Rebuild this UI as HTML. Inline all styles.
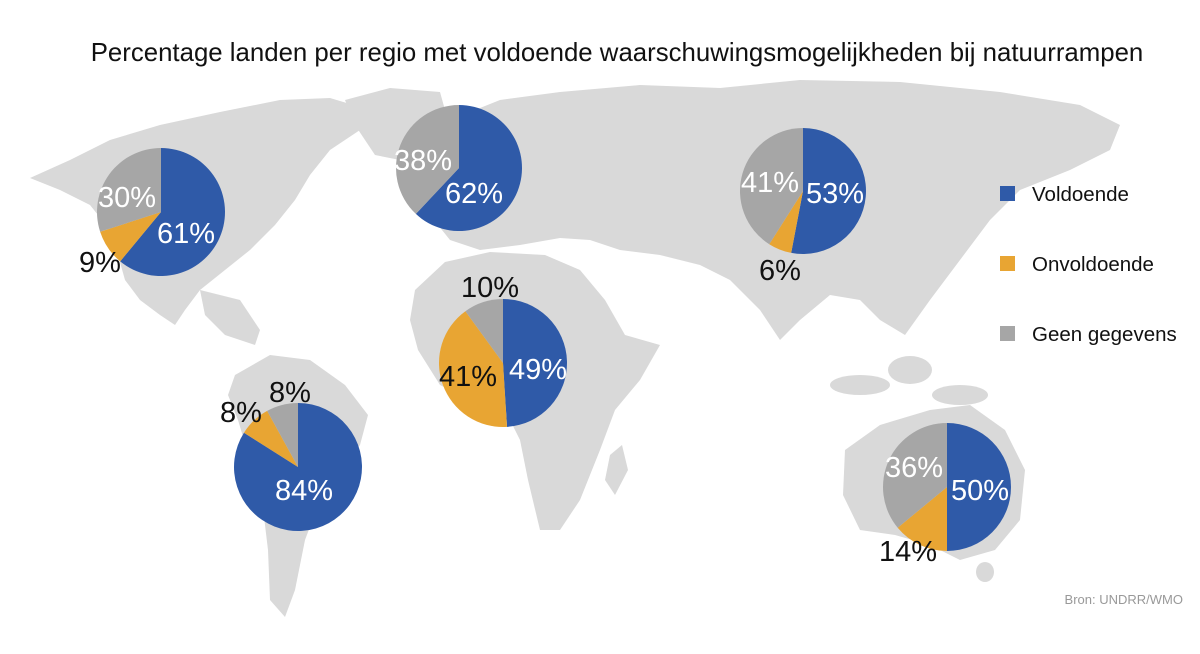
<!DOCTYPE html>
<html><head><meta charset="utf-8"><style>
body{margin:0;background:#fff;width:1200px;height:654px;overflow:hidden;font-family:"Liberation Sans",sans-serif}
svg{display:block}
</style></head><body>
<svg id="s" width="1200" height="654" viewBox="0 0 1200 654">
<text x="617" y="61" font-size="25.8" text-anchor="middle" fill="#111">Percentage landen per regio met voldoende waarschuwingsmogelijkheden bij natuurrampen</text>
<g fill="#d9d9d9">
<polygon points="30,178 70,160 110,140 160,125 220,112 280,100 330,98 370,110 360,130 330,150 310,175 295,200 275,225 250,250 225,270 200,290 185,310 175,325 160,315 140,300 125,280 118,255 110,230 90,205 60,190"/>
<polygon points="345,100 390,88 440,92 445,110 420,135 400,160 375,155 355,125"/>
<polygon points="200,290 240,300 260,330 255,345 225,335 205,315"/>
<polygon points="235,375 270,355 310,360 345,385 368,415 360,445 340,470 320,500 305,540 295,590 285,617 270,600 268,550 262,500 250,460 238,420 228,395"/>
<polygon points="415,160 450,120 500,100 560,92 640,85 720,88 800,80 900,82 1000,92 1080,105 1120,125 1110,150 1070,170 1020,190 990,220 960,260 930,300 905,335 880,320 860,300 830,295 800,320 780,340 760,310 730,280 700,265 660,255 620,250 590,240 560,238 520,245 480,250 450,240 430,215"/>
<polygon points="415,290 445,262 490,252 545,255 580,270 605,300 625,335 660,345 640,380 615,410 600,450 580,500 560,530 540,530 528,480 520,440 505,410 470,400 440,385 418,350 410,320"/>
<polygon points="610,455 622,445 628,470 615,495 605,480"/>
<polygon points="845,450 880,425 930,410 970,405 1005,430 1025,470 1020,520 995,550 960,560 930,545 895,535 860,530 843,495"/>
<ellipse cx="860" cy="385" rx="30" ry="10"/><ellipse cx="910" cy="370" rx="22" ry="14"/><ellipse cx="960" cy="395" rx="28" ry="10"/><ellipse cx="985" cy="572" rx="9" ry="10"/>
</g>
<g id="pies"></g>
<rect x="1000" y="186" width="15" height="15" fill="#2f5aa8"/>
<text x="1032" y="201" font-size="20.5" fill="#111">Voldoende</text>
<rect x="1000" y="256" width="15" height="15" fill="#e8a533"/>
<text x="1032" y="271" font-size="20.5" fill="#111">Onvoldoende</text>
<rect x="1000" y="326" width="15" height="15" fill="#a6a6a6"/>
<text x="1032" y="341" font-size="20.5" fill="#111">Geen gegevens</text>
<text x="1183" y="604" font-size="13" text-anchor="end" fill="#999">Bron: UNDRR/WMO</text>
</svg>
<script>
var C=["#2f5aa8","#e8a533","#a6a6a6"];
var P=[
[161,212,64,[61,9,30],[[186,233,"61%","#fff"],[127,197,"30%","#fff"],[100,262,"9%","#111"]]],
[459,168,63,[62,0,38],[[474,193,"62%","#fff"],[423,160,"38%","#fff"]]],
[803,191,63,[53,6,41],[[835,193,"53%","#fff"],[770,182,"41%","#fff"],[780,270,"6%","#111"]]],
[503,363,64,[49,41,10],[[538,369,"49%","#fff"],[468,376,"41%","#111"],[490,287,"10%","#111"]]],
[298,467,64,[84,8,8],[[304,490,"84%","#fff"],[241,412,"8%","#111"],[290,392,"8%","#111"]]],
[947,487,64,[50,14,36],[[980,490,"50%","#fff"],[914,467,"36%","#fff"],[908,551,"14%","#111"]]]
];
var h="";
P.forEach(function(p){var cx=p[0],cy=p[1],r=p[2],a=0;
p[3].forEach(function(v,i){if(!v)return;var a0=a*2*Math.PI/100,a1=(a+v)*2*Math.PI/100;a+=v;
var x0=cx+r*Math.sin(a0),y0=cy-r*Math.cos(a0),x1=cx+r*Math.sin(a1),y1=cy-r*Math.cos(a1);
h+='<path fill="'+C[i]+'" d="M'+cx+','+cy+'L'+x0+','+y0+'A'+r+','+r+' 0 '+(v>50?1:0)+' 1 '+x1+','+y1+'Z"/>';});
p[4].forEach(function(l){h+='<text x="'+l[0]+'" y="'+(l[1]+10)+'" font-size="29" text-anchor="middle" fill="'+l[3]+'">'+l[2]+'</text>';});
});
document.getElementById("pies").innerHTML=h;
</script>
</body></html>
